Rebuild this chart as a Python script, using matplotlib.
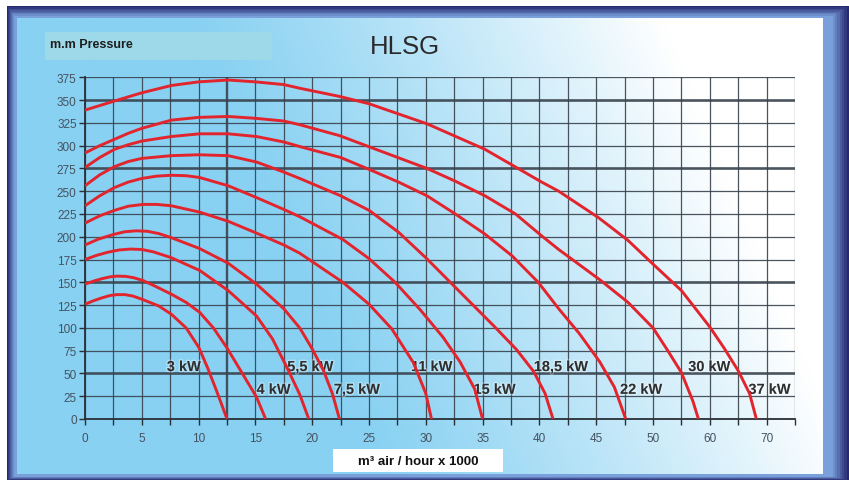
#!/usr/bin/env python3
import numpy as np
import matplotlib

matplotlib.use("Agg")
import matplotlib.pyplot as plt
import matplotlib.patheffects as pe
from matplotlib.patches import Rectangle

W, H = 849, 481

# air flow (m3/h x 1000) vs pressure (mm)
flow_3kw = [0, 0.8, 1.5, 2.2, 2.8, 3.5, 4.2, 5.1, 6.5, 7.6, 8.9, 10, 10.8, 11.7, 12.5]
head_3kw = [126, 130, 133, 135.5, 136.5, 136.5, 135, 131, 124, 115, 100, 79, 56, 27, 0]

flow_4kw = [0, 0.8, 1.5, 2.2, 2.8, 3.6, 4.3, 5.1, 6.3, 7.6, 8.9, 10.1, 11.3, 12.5, 13.8, 15.1, 15.9]
head_4kw = [148, 151.5, 154, 156, 156.8, 156.5, 155, 152, 145, 137, 128, 117, 100, 78, 51, 24, 0]

flow_5_5kw = [0, 1, 2, 3, 4, 5, 6, 7.6, 10.1, 12.6, 15.1, 16.5, 17.8, 18.9, 19.7]
head_5_5kw = [175, 179.5, 183, 185.5, 186.5, 186, 183.5, 177, 163, 141, 113, 88, 56, 27, 0]

flow_7_5kw = [0, 1.2, 2.5, 3.5, 4.5, 5.5, 6.5, 7.6, 10.1, 12.6, 15.1, 17.5, 18.9, 20, 21, 21.8, 22.4]
head_7_5kw = [191, 197.5, 202.5, 205.5, 206.5, 206, 203.5, 199, 187, 171, 148, 121, 100, 77, 53, 27, 0]

flow_11kw = [0, 1.3, 2.6, 3.8, 5.1, 6.3, 7.6, 10.1, 12.6, 15.1, 17.5, 18.9, 22.7, 25, 27, 28.9, 30, 30.5]
head_11kw = [215, 223, 229, 233.5, 235.5, 235.5, 234, 227, 217, 204, 191, 182, 150, 126, 99, 62, 28, 0]

flow_15kw = [0, 1.3, 2.6, 3.8, 5, 6.3, 7.6, 8.9, 10.1, 12.6, 15.1, 17.5, 18.9, 22.7, 25, 27.3, 29.5, 31.5, 33, 34.3, 35]
head_15kw = [234, 245, 254, 260, 264, 266.5, 267.5, 267, 265, 256, 243, 230, 222, 197, 176, 150, 120, 90, 63, 33, 0]

flow_18_5kw = [0, 1.3, 2.6, 3.8, 5, 7.6, 10, 12.6, 15.1, 17.5, 18.9, 22.5, 25, 27.6, 30, 32, 34, 36, 38, 39.5, 40.5, 41.2]
head_18_5kw = [256, 268, 277, 282.5, 286, 289, 290, 289, 282, 271, 264, 245, 229, 205, 177, 152, 127, 102, 76, 52, 28, 0]

flow_22kw = [0, 1.3, 2.6, 3.8, 5, 7.6, 10.1, 12.6, 15.1, 17.5, 18.9, 22.5, 25, 27.6, 30.1, 32.6, 35.2, 37.6, 39.9, 41.7, 43.5, 45.3, 46.6, 47.6]
head_22kw = [276, 287, 296, 301, 305, 310, 313, 313, 310, 304, 299, 287, 274, 260, 245, 225, 203, 179, 150, 121, 94, 63, 35, 0]

flow_30kw = [0, 1.3, 2.6, 3.8, 5, 7.6, 10, 12.6, 15, 17.5, 18.9, 22.4, 25.6, 30.1, 32.6, 35.2, 37.9, 40.2, 41.7, 45.3, 47.8, 50, 52.5, 55, 57, 58]
head_30kw = [292, 300, 307, 313.5, 319, 328, 331, 332, 330, 327, 323, 311, 296, 275, 261, 245, 225, 201, 186, 153, 128, 100, 76, 51, 20, 0]

flow_37kw = [0, 1.3, 2.6, 3.8, 5, 7.6, 10, 12.6, 15, 17.5, 18.9, 22.4, 25, 30.1, 35.2, 37.7, 40.2, 41.7, 45.2, 47.8, 50, 55, 60, 62.5, 65, 67, 68.2]
head_37kw = [339, 344, 349, 353.5, 358, 366, 370, 372, 370, 367, 363, 354, 346, 324, 296, 278, 260, 250, 221, 196, 170, 141, 101, 78, 53, 28, 0]

curve_labels = ["3 kW", "4 kW", "5,5 kW", "7,5 kW", "11 kW", "15 kW", "18,5 kW", "22 kW", "30 kW", "37 kW"]
label_x = [7.2, 15.1, 17.8, 21.9, 28.7, 34.2, 39.5, 47.1, 56.2, 66.8]
label_y = [57, 32, 57, 32, 57, 32, 57, 32, 57, 32]

x_ticks = [0, 5, 10, 15, 20, 25, 30, 35, 40, 45, 50, 60, 70]
y_ticks = [0, 25, 50, 75, 100, 125, 150, 175, 200, 225, 250, 275, 300, 325, 350, 375]
heavy_y = [50, 150, 275, 350]
heavy_x = [12.5]

RED = "#e2242d"
GRID = "#38424c"


def _fwd(x):
    x = np.asarray(x, dtype=float)
    return np.where(x <= 50, x, 50 + (x - 50) / 2)


def _inv(d):
    d = np.asarray(d, dtype=float)
    return np.where(d <= 50, d, 50 + (d - 50) * 2)


def _background(fig):
    bg = fig.add_axes([0, 0, 1, 1], zorder=0)
    bg.set_xlim(0, W)
    bg.set_ylim(H, 0)
    bg.axis("off")

    # bevelled navy frame
    outer = np.array([0x26, 0x29, 0x70]) / 255
    inner = np.array([0x7a, 0xa0, 0xdc]) / 255
    steps = 8
    for i in range(steps):
        t = i / (steps - 1)
        c = outer * (1 - t) + inner * t
        bg.add_patch(Rectangle((7 + i, 7 + i * 1.4), W - 7 - i * 3.3, H - 7 - i * 1.9,
                               color=c, lw=0, zorder=1))

    # sky blue to white panel
    x0, x1, y0, y1 = 17, 823, 19, 475
    nx, ny = 400, 200
    u = np.linspace(0, 1, nx)[None, :]
    v = np.linspace(1, 0, ny)[:, None]
    t = np.clip((u - 0.33) * 1.7 + 0.4 * (v - 0.5), 0, 1) ** 1.15
    blue = np.array([0x88, 0xd1, 0xf2]) / 255
    img = blue[None, None, :] * (1 - t[..., None]) + t[..., None]
    bg.imshow(img, extent=(x0, x1, y1, y0), aspect="auto", interpolation="bilinear",
              zorder=2)
    bg.set_xlim(0, W)
    bg.set_ylim(H, 0)

    bg.add_patch(Rectangle((45, 33), 227, 28, color="#a0dae8", lw=0, alpha=0.9, zorder=3))
    bg.text(50, 45, "m.m Pressure", fontsize=9, fontweight="bold", color="#1e1e1e",
            va="center", ha="left", zorder=4)
    bg.text(405, 47, "HLSG", fontsize=18.5, color="#2a2a2a", va="center", ha="center",
            zorder=4)

    bg.add_patch(Rectangle((333, 450), 170, 23, color="white", lw=0, zorder=3))
    bg.text(418, 462, "m\u00b3 air / hour x 1000", fontsize=9.5, fontweight="bold",
            color="#111111", va="center", ha="center", zorder=4)


def main():
    plt.rcParams["font.family"] = ["Liberation Sans", "DejaVu Sans"]
    fig = plt.figure(figsize=(W / 100, H / 100), dpi=100)
    fig.patch.set_facecolor("white")
    _background(fig)

    ax = fig.add_axes([85 / W, 1 - 420 / H, (795 - 85) / W, (420 - 78.3) / H], zorder=2)
    ax.patch.set_alpha(0)
    ax.set_xscale("function", functions=(_fwd, _inv))
    ax.set_xlim(0, 75)
    ax.set_ylim(0, 375)

    x_grid = list(np.arange(0, 50.1, 2.5)) + [55, 60, 65, 70, 75]
    for gx in x_grid:
        lw = 1.7 if gx in heavy_x else 0.9
        ax.axvline(gx, color=GRID, lw=lw, alpha=0.9, zorder=1)
    for gy in y_ticks:
        lw = 1.9 if gy in heavy_y else 0.9
        ax.axhline(gy, color=GRID, lw=lw, alpha=0.9, zorder=1)

    for s in ax.spines.values():
        s.set_visible(False)
    ax.spines["left"].set_visible(True)
    ax.spines["bottom"].set_visible(True)
    ax.spines["left"].set_color("#2a2f36")
    ax.spines["bottom"].set_color("#2a2f36")
    ax.spines["left"].set_linewidth(1.3)
    ax.spines["bottom"].set_linewidth(1.3)

    ax.set_xticks(x_ticks)
    ax.set_xticks(x_grid, minor=True)
    ax.set_xticklabels([str(v) for v in x_ticks])
    ax.set_yticks(y_ticks)
    ax.set_yticklabels([str(v) for v in y_ticks])
    ax.tick_params(axis="both", which="both", direction="out", color="#2a2f36",
                   labelcolor="#45525f", labelsize=8.5, width=1)
    ax.tick_params(axis="y", length=4, pad=2)
    ax.tick_params(axis="x", which="both", length=4, pad=5)

    halo = [pe.withStroke(linewidth=2, foreground="white", alpha=0.35)]
    for txt, lx, ly in zip(curve_labels, label_x, label_y):
        ax.text(lx, ly, txt, fontsize=10.5, fontweight="bold", color="#2e2e2e",
                ha="left", va="center", zorder=3, path_effects=halo)

    curves = [
        (flow_3kw, head_3kw), (flow_4kw, head_4kw), (flow_5_5kw, head_5_5kw),
        (flow_7_5kw, head_7_5kw), (flow_11kw, head_11kw), (flow_15kw, head_15kw),
        (flow_18_5kw, head_18_5kw), (flow_22kw, head_22kw), (flow_30kw, head_30kw),
        (flow_37kw, head_37kw),
    ]
    for fx, fy in curves:
        ax.plot(fx, fy, color=RED, lw=2.1, solid_joinstyle="round",
                solid_capstyle="butt", zorder=4)

    fig.savefig("out.png", dpi=100)


if __name__ == "__main__":
    main()
